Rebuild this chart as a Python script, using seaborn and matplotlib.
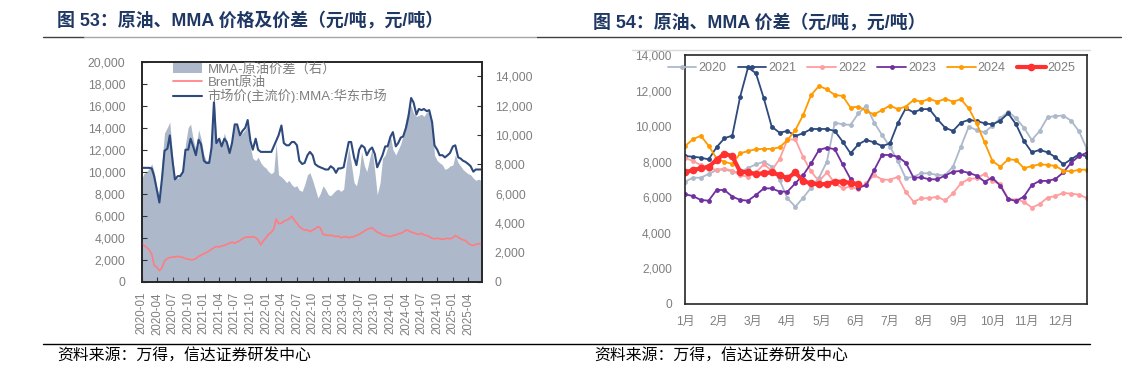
import numpy as np
import pandas as pd
import matplotlib
matplotlib.use("Agg")
import matplotlib.pyplot as plt
import seaborn as sns
from matplotlib.lines import Line2D

# ---------------- 数据 ----------------
# 图53：半月度数据（2020-01 ~ 2025-06）
dates = pd.date_range("2020-01-01", periods=132, freq="SMS")

mma_east = [
    10350, 10350, 10350, 10350, 10300, 9600, 8300, 7200, 9500, 11900,
    12100, 13300, 11000, 9300, 9600, 9600, 10000, 12000, 12000, 13000,
    12200, 11500, 12900, 12500, 11000, 10800, 10800, 12200, 16300, 12600,
    13000, 12300, 13000, 12700, 11700, 12600, 14300, 14300, 13300, 13700,
    14000, 14700, 12800, 12000, 13000, 12000, 11800, 11800, 11800, 11800,
    11800, 12300, 12800, 13300, 14200, 12600, 12400, 12400, 12700, 12700,
    12400, 11000, 10700, 10800, 11500, 11800, 11500, 10700, 10500, 10400,
    10300, 10200, 10200, 10500, 10300, 9900, 10300, 10300, 10400, 11500,
    12700, 12700, 11300, 10600, 12000, 12400, 12200, 11500, 12000, 12200,
    11600, 10400, 11000, 11500, 12300, 12300, 13200, 13600, 12300, 12600,
    13100, 13200, 14000, 15000, 16700, 16300, 15200, 15700, 15600, 15700,
    15500, 15600, 14500, 12400, 12000, 11500, 11500, 11300, 11500, 11700,
    12300, 12400, 11300, 11200, 11000, 10900, 10700, 10500, 10000, 10200,
    10200, 10200,
]

brent = [
    3500, 3300, 3100, 2900, 2500, 1500, 1300, 1000, 1300, 1900,
    2100, 2200, 2250, 2250, 2300, 2250, 2200, 2100, 2050, 2000,
    2000, 2100, 2300, 2400, 2550, 2650, 2800, 2950, 3100, 3200,
    3150, 3250, 3300, 3400, 3500, 3600, 3500, 3600, 3750, 3900,
    4050, 4050, 4050, 4100, 4000, 3800, 3350, 3700, 4000, 4300,
    4500, 4800, 5700, 5300, 5300, 5500, 5600, 5700, 5950, 5600,
    5300, 5000, 4800, 4700, 4700, 4550, 4700, 4800, 5000, 4900,
    4300, 4250, 4200, 4250, 4150, 4100, 4150, 4000, 4050, 4100,
    4000, 4050, 4100, 4200, 4300, 4450, 4600, 4750, 4850, 4900,
    4700, 4500, 4400, 4250, 4200, 4150, 4100, 4200, 4250, 4350,
    4400, 4500, 4700, 4650, 4500, 4450, 4350, 4300, 4400, 4250,
    4200, 4100, 3950, 3900, 3950, 3900, 3850, 3900, 3950, 3900,
    4000, 4200, 4050, 3900, 3800, 3750, 3500, 3350, 3300, 3400,
    3450, 3450,
]

# MMA-原油价差（右轴）
spread = [
    6990, 7360, 7510, 7740, 8040, 7510, 6390, 5780, 8260, 10140,
    10520, 10890, 8640, 7140, 7060, 7210, 7890, 9390, 10520, 10740,
    9620, 9010, 10370, 9770, 8640, 8260, 8260, 9390, 13150, 9770,
    9770, 9240, 10140, 9620, 8860, 9620, 10670, 10740, 9920, 10140,
    10370, 10740, 9160, 8410, 8260, 8490, 8110, 7890, 7740, 7510,
    7360, 7510, 9470, 7290, 7140, 6990, 6760, 6910, 6610, 6460,
    6540, 6240, 6160, 6610, 7290, 7440, 6910, 6390, 5710, 6010,
    6540, 6310, 5930, 5860, 6080, 6240, 6310, 6160, 6310, 7890,
    9160, 8110, 6760, 6540, 7360, 8860, 7890, 7510, 8410, 9090,
    7510, 5930, 6760, 8410, 8640, 9160, 9920, 9010, 8640, 9010,
    9390, 9990, 11120, 11720, 12020, 11490, 11270, 11340, 11420, 11270,
    11570, 11570, 10890, 8640, 8260, 8110, 7960, 7660, 7740, 7890,
    7960, 8640, 8110, 7890, 7660, 7510, 7360, 7290, 7060, 6910,
    6990, 6910,
]

# 图54：周度价差，按年份
y2020 = [6880, 7100, 7100, 7310, 7530, 7570, 7440, 7420, 7650, 7850,
         8000, 7720, 6970, 5940, 5470, 5980, 6540, 7100, 8000, 10200,
         10100, 10070, 10720, 11150, 10200, 9500, 8850, 8040, 7070, 7160,
         7350, 7350, 7250, 7250, 7720, 8850, 9970, 9780, 9650, 10030,
         10440, 10810, 10440, 9910, 9220, 9730, 10500, 10570, 10590, 10300,
         9700, 8700]
y2021 = [8320, 8280, 8230, 8130, 8810, 9320, 9470, 11660, 13300, 12970,
         11560, 9970, 9630, 9730, 9450, 9600, 9840, 9840, 9840, 9730,
         9130, 8470, 8980, 9220, 9090, 8880, 9030, 10160, 11000, 10780,
         10950, 10960, 10400, 9910, 9730, 10200, 10350, 10290, 10160, 10100,
         10310, 10720, 10100, 9160, 8530, 8660, 8530, 8250, 7850, 8140,
         8420, 8290]
y2022 = [8200, 8050, 7800, 7600, 7550, 7600, 7500, 7250, 7150, 7400,
         7850, 7500, 8150, 9250, 9250, 8250, 7450, 6900, 7400, 6800,
         6500, 6600, 6450, 6800, 7250, 7000, 6980, 7150, 6300, 5750,
         5940, 5950, 6030, 5820, 6220, 6780, 7030, 7070, 7310, 6900,
         6750, 5900, 5870, 5750, 5420, 5620, 5980, 6070, 6250, 6200,
         6150, 5950]
y2023 = [6170, 6070, 5850, 5810, 6410, 6410, 6040, 5850, 5810, 6130,
         6500, 6500, 6320, 6320, 6790, 7250, 7910, 8660, 8790, 8700,
         7850, 7030, 6540, 6690, 7530, 8380, 8380, 8280, 7950, 7100,
         7120, 7010, 7010, 7220, 7440, 7480, 7370, 7220, 6880, 7100,
         6650, 5900, 5790, 6040, 6690, 6920, 6920, 7030, 7400, 7950,
         8320, 8510]
y2024 = [8880, 9260, 9460, 8900, 8190, 8000, 7870, 8470, 8600, 8700,
         8720, 8720, 8810, 9220, 9780, 10630, 11750, 12260, 12070, 11750,
         11700, 11040, 11100, 10850, 10660, 10910, 11150, 10960, 11100, 11470,
         11380, 11530, 11380, 11530, 11380, 11510, 11000, 10160, 9090, 8040,
         7720, 8130, 8100, 7630, 7760, 7850, 7820, 7760, 7500, 7450,
         7550, 7550]
y2025 = [7400, 7530, 7630, 7720, 8100, 8450, 8300, 7440, 7400, 7310,
         7350, 7400, 7250, 7070, 7400, 6900, 6790, 6720, 6760, 6870,
         6880, 6810, 6740]

years = ["2020", "2021", "2022", "2023", "2024", "2025"]
year_values = [y2020, y2021, y2022, y2023, y2024, y2025]
year_colors = ["#ADB9CA", "#2E4A7D", "#FF9E9E", "#7030A0", "#FF9A00", "#FF3030"]
month_labels = [f"{m}月" for m in range(1, 13)]

# ---------------- 样式 ----------------
sns.set_theme(style="white")
plt.rcParams["font.family"] = ["Liberation Sans", "Noto Sans CJK SC"]
plt.rcParams["axes.unicode_minus"] = False

W, H = 1137, 367
grey = "#7F7F7F"
navy_title = "#1F3763"


def fx(px):
    return px / W


def fy(py):
    return 1 - py / H


fig = plt.figure(figsize=(W / 100, H / 100), dpi=100)

# ---------------- 图53 ----------------
ax = fig.add_axes([fx(141.5), fy(281.7), fx(481.7) - fx(141.5), fy(61.7) - fy(281.7)])
ax2 = ax.twinx()

ax2.fill_between(dates, 0, spread, color="#ADB9CA", lw=0, label="MMA-原油价差（右）")
sns.lineplot(x=dates, y=brent, ax=ax, color="#FF7C80", lw=1.2, label="Brent原油")
sns.lineplot(x=dates, y=mma_east, ax=ax, color="#2E4A7D", lw=1.5,
             label="市场价(主流价):MMA:华东市场")

ax.set_zorder(ax2.get_zorder() + 1)
ax.patch.set_visible(False)

ax.set_xlim(pd.Timestamp("2020-01-01"), pd.Timestamp("2025-06-19"))
ax.set_ylim(0, 20000)
ax2.set_ylim(0, 15000)
ax.set_yticks(range(0, 20001, 2000))
ax2.set_yticks(range(0, 14001, 2000))
ax.yaxis.set_major_formatter(matplotlib.ticker.StrMethodFormatter("{x:,.0f}"))
ax2.yaxis.set_major_formatter(matplotlib.ticker.StrMethodFormatter("{x:,.0f}"))

qticks = pd.date_range("2020-01-01", "2025-04-01", freq="QS")
ax.set_xticks(qticks)
ax.set_xticklabels([d.strftime("%Y-%m") for d in qticks], rotation=90)
ax.set_xlabel("")
ax.set_ylabel("")

ax.tick_params(axis="x", direction="in", length=3.5, width=0.8, color="#333333",
               labelsize=8.3, labelcolor=grey, pad=7.5, bottom=True)
ax.tick_params(axis="y", direction="in", length=3.5, width=0.8, color="#333333",
               labelsize=8.7, labelcolor=grey, pad=11.5, left=True)
ax2.tick_params(axis="y", direction="in", length=3.5, width=0.8, color="#333333",
                labelsize=8.7, labelcolor=grey, pad=9.5, right=True)

for a in (ax, ax2):
    for s in a.spines.values():
        s.set_color("#262626")
        s.set_linewidth(1.2)

h1, l1 = ax.get_legend_handles_labels()
h2, l2 = ax2.get_legend_handles_labels()
ax.legend(h2 + h1, l2 + l1, loc="upper left", bbox_to_anchor=(0.09, 1.0),
          frameon=False, fontsize=9.5, labelcolor=grey, handlelength=2.2,
          handletextpad=0.4, labelspacing=0.05, borderaxespad=0.0, borderpad=0.1)

# ---------------- 图54 ----------------
bx = fig.add_axes([fx(685), fy(304), fx(1087) - fx(685), fy(55) - fy(304)])
for name, vals, col in zip(years, year_values, year_colors):
    weeks = np.arange(len(vals))
    if name == "2025":
        sns.lineplot(x=weeks, y=vals, ax=bx, color=col, lw=3.0, marker="o",
                     markersize=5.5, markeredgewidth=0, label=name)
    else:
        sns.lineplot(x=weeks, y=vals, ax=bx, color=col, lw=1.3, marker="o",
                     markersize=3.5, markeredgewidth=0, label=name)

bx.set_xlim(0, 51)
bx.set_ylim(0, 14000)
bx.set_yticks(range(0, 14001, 2000))
bx.yaxis.set_major_formatter(matplotlib.ticker.StrMethodFormatter("{x:,.0f}"))
bx.set_xticks([m * 52 / 12 for m in range(12)])
bx.set_xticklabels(month_labels)
bx.set_xlabel("")
bx.set_ylabel("")
bx.tick_params(axis="both", length=0, labelsize=8.6, labelcolor=grey)
bx.tick_params(axis="y", pad=9.5)
bx.tick_params(axis="x", pad=8.5)
for s in bx.spines.values():
    s.set_color("#262626")
    s.set_linewidth(1.2)

bx.legend(loc="center left", bbox_to_anchor=(-0.043, 0.948), ncol=6, frameon=False,
          fontsize=9, labelcolor=grey, handlelength=2.3, handletextpad=0.15,
          columnspacing=0.9, borderaxespad=0.0, borderpad=0.0)

# ---------------- 标题、分隔线、来源 ----------------
fig.text(fx(57), fy(20), "图 53：原油、MMA 价格及价差（元/吨，元/吨）", fontsize=12.9,
         fontweight="bold", color=navy_title, va="center", ha="left")
fig.text(fx(593), fy(22), "图 54：原油、MMA 价差（元/吨，元/吨）", fontsize=12.9,
         fontweight="bold", color=navy_title, va="center", ha="left")

for x0, x1, col in [(43, 84, "#404040"), (84, 537, "#A6A6A6"), (537, 1121, "#404040")]:
    fig.add_artist(Line2D([fx(x0), fx(x1)], [fy(37), fy(37)], transform=fig.transFigure,
                          color=col, lw=1.0))
fig.add_artist(Line2D([fx(632), fx(1090)], [fy(50), fy(50)], transform=fig.transFigure,
                      color="#D9D9D9", lw=1.0))
fig.add_artist(Line2D([fx(43), fx(1090)], [fy(344), fy(344)], transform=fig.transFigure,
                      color="#000000", lw=1.0))

fig.text(fx(57), fy(355), "资料来源：万得，信达证券研发中心", fontsize=11.4,
         color="#000000", va="center", ha="left", fontstyle="italic")
fig.text(fx(594), fy(355), "资料来源：万得，信达证券研发中心", fontsize=11.4,
         color="#000000", va="center", ha="left", fontstyle="italic")

fig.savefig("out.png", dpi=100)
